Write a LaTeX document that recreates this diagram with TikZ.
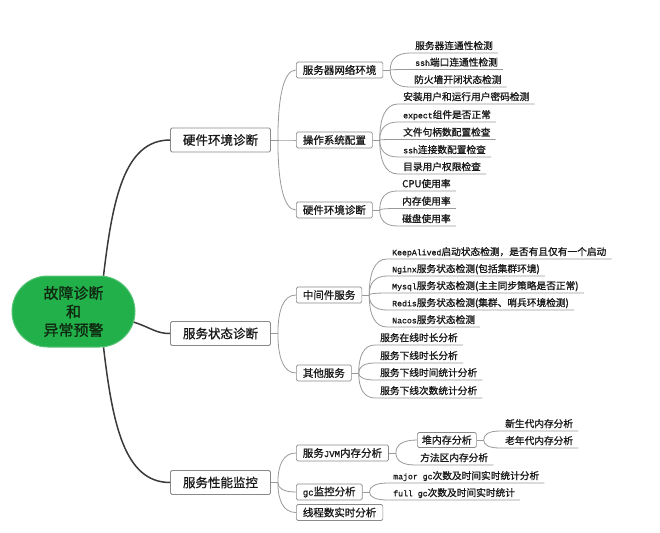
\documentclass[tikz,border=0pt]{standalone}
\usepackage{fontspec}
\setmainfont{Noto Sans CJK SC}[FakeBold=1]
\newfontfamily\monof{Liberation Mono}[FakeBold=1]
\usetikzlibrary{calc,shapes.misc}
\newcommand\latn[1]{{\monof\fontsize{8.2pt}{10pt}\selectfont #1}}
\newcommand\latnb[1]{{\monof\fontsize{9pt}{11pt}\selectfont #1}}
\definecolor{rootgreen}{HTML}{22B04B}
\definecolor{roottext}{HTML}{102810}
\definecolor{txt}{HTML}{1A1A1A}
\definecolor{boxline}{HTML}{8A8A8A}
\definecolor{linegray}{HTML}{9A9A9A}
\definecolor{trunk}{HTML}{3A3A3A}
\begin{document}
\begin{tikzpicture}[x=1pt,y=-1pt,
  rootnode/.style={rounded rectangle, fill=rootgreen, draw=rootgreen!75!white, line width=1pt,
    minimum width=123pt, minimum height=71pt, align=center, inner sep=0pt,
    font=\fontsize{15pt}{18.5pt}\selectfont, text=roottext},
  lonebox/.style={draw=boxline, line width=0.8pt, rounded corners=1.5pt, fill=white,
    minimum width=100pt, minimum height=24pt, inner sep=0pt,
    font=\fontsize{12.5pt}{14pt}\selectfont, text=txt},
  ltwobox/.style={draw=boxline, line width=0.7pt, rounded corners=1.5pt, fill=white,
    minimum height=16pt, inner xsep=6.5pt, inner ysep=0pt, anchor=west,
    font=\fontsize{10.5pt}{12pt}\selectfont, text=txt},
  lthreebox/.style={ltwobox, inner xsep=4.5pt, minimum height=15pt,
    font=\fontsize{10pt}{12pt}\selectfont},
  leaf/.style={anchor=south west, inner xsep=5pt, inner ysep=2pt,
    text height=7.5pt, text depth=1.5pt,
    font=\fontsize{9.7pt}{11pt}\selectfont, text=txt},
  trunkline/.style={draw=trunk, line width=1.5pt},
  branch/.style={draw=linegray, line width=0.8pt},
  elbow/.style={to path={.. controls ($(\tikztostart)!0.6!(\tikztostart |- \tikztotarget)$)
    and ($(\tikztostart |- \tikztotarget)!0.3!(\tikztotarget)$) .. (\tikztotarget)}},
]
\fill[white] (0,0) rectangle (660,532);
\useasboundingbox (0,0) rectangle (660,532);

% root
\node[rootnode] (root) at (73.5,311.5) {故障诊断\\和\\异常预警};

% level 1
\node[lonebox] (h1) at (220.5,140) {硬件环境诊断};
\node[lonebox] (s1) at (220.5,333.5) {服务状态诊断};
\node[lonebox] (p1) at (220.5,482.5) {服务性能监控};

\draw[trunkline] (root.50) .. controls +(9,-76) and +(-46,0) .. (h1.west);
\draw[trunkline] (root.-10) .. controls +(18,6) and +(-14,0) .. (s1.west);
\draw[trunkline] (root.-50) .. controls +(9,76) and +(-46,0) .. (p1.west);

% level 2
\node[ltwobox] (a1) at (296,70) {服务器网络环境};
\node[ltwobox] (a2) at (296,140) {操作系统配置};
\node[ltwobox] (a3) at (296,210) {硬件环境诊断};
\node[ltwobox] (b1) at (296,295) {中间件服务};
\node[ltwobox] (b2) at (296,373) {其他服务};
\node[ltwobox] (c1) at (296,453) {服务\latnb{JVM}内存分析};
\node[ltwobox] (c2) at (296,492) {\latnb{gc}监控分析};
\node[ltwobox] (c3) at (296,512.5) {线程数实时分析};

\coordinate (fh) at ($(h1.east)+(7,0)$);
\coordinate (fs) at ($(s1.east)+(7,0)$);
\coordinate (fp) at ($(p1.east)+(7,0)$);
\draw[branch] (h1.east) -- (fh);
\draw[branch] (s1.east) -- (fs);
\draw[branch] (p1.east) -- (fp);
\draw[branch] (fh) to[elbow] (a1.west);
\draw[branch] (fh) to[elbow] (a2.west);
\draw[branch] (fh) to[elbow] (a3.west);
\draw[branch] (fs) to[elbow] (b1.west);
\draw[branch] (fs) to[elbow] (b2.west);
\draw[branch] (fp) to[elbow] (c1.west);
\draw[branch] (fp) to[elbow] (c2.west);
\draw[branch] (fp) to[elbow] (c3.west);

% leaves of a1
\node[leaf] (a1x) at (410,53) {服务器连通性检测};
\node[leaf] (a1y) at (410,69.5) {\latn{ssh}端口连通性检测};
\node[leaf] (a1z) at (409,87) {防火墙开闭状态检测};
\coordinate (fa1) at ($(a1.east)+(7,0)$);
\draw[branch] (a1.east) -- (fa1);
\foreach \n in {a1x,a1y,a1z}
  \draw[branch] (fa1) to[elbow] (\n.south west) -- (\n.south east);

% leaves of a2
\node[leaf] (a2a) at (398,104) {安装用户和运行用户密码检测};
\node[leaf] (a2b) at (398,122) {\latn{expect}组件是否正常};
\node[leaf] (a2c) at (398,139.5) {文件句柄数配置检查};
\node[leaf] (a2d) at (398,157) {\latn{ssh}连接数配置检查};
\node[leaf] (a2e) at (398,174) {目录用户权限检查};
\coordinate (fa2) at ($(a2.east)+(7,0)$);
\draw[branch] (a2.east) -- (fa2);
\foreach \n in {a2a,a2b,a2c,a2d,a2e}
  \draw[branch] (fa2) to[elbow] (\n.south west) -- (\n.south east);

% leaves of a3
\node[leaf] (a3a) at (397,191) {CPU使用率};
\node[leaf] (a3b) at (397,208.5) {内存使用率};
\node[leaf] (a3c) at (397,226) {磁盘使用率};
\coordinate (fa3) at ($(a3.east)+(7,0)$);
\draw[branch] (a3.east) -- (fa3);
\foreach \n in {a3a,a3b,a3c}
  \draw[branch] (fa3) to[elbow] (\n.south west) -- (\n.south east);

% leaves of b1
\node[leaf] (b1a) at (387,259) {\latn{KeepAlived}启动状态检测，是否有且仅有一个启动};
\node[leaf] (b1b) at (387,276) {\latn{Nginx}服务状态检测(包括集群环境)};
\node[leaf] (b1c) at (387,293) {\latn{Mysql}服务状态检测(主主同步策略是否正常)};
\node[leaf] (b1d) at (387,310) {\latn{Redis}服务状态检测(集群、哨兵环境检测)};
\node[leaf] (b1e) at (387,327) {\latn{Nacos}服务状态检测};
\coordinate (fb1) at ($(b1.east)+(7,0)$);
\draw[branch] (b1.east) -- (fb1);
\foreach \n in {b1a,b1b,b1c,b1d,b1e}
  \draw[branch] (fb1) to[elbow] (\n.south west) -- (\n.south east);

% leaves of b2
\node[leaf] (b2a) at (375,345) {服务在线时长分析};
\node[leaf] (b2b) at (375,363) {服务下线时长分析};
\node[leaf] (b2c) at (375,380) {服务下线时间统计分析};
\node[leaf] (b2d) at (375,398) {服务下线次数统计分析};
\coordinate (fb2) at ($(b2.east)+(7,0)$);
\draw[branch] (b2.east) -- (fb2);
\foreach \n in {b2a,b2b,b2c,b2d}
  \draw[branch] (fb2) to[elbow] (\n.south west) -- (\n.south east);

% children of c1
\node[lthreebox] (c1a) at (417,440) {堆内存分析};
\node[leaf] (c1b) at (415,465) {方法区内存分析};
\coordinate (fc1) at ($(c1.east)+(7,0)$);
\draw[branch] (c1.east) -- (fc1);
\draw[branch] (fc1) to[elbow] (c1a.west);
\draw[branch] (fc1) to[elbow] (c1b.south west) -- (c1b.south east);

% leaves of heap
\node[leaf] (hpa) at (500,431) {新生代内存分析};
\node[leaf] (hpb) at (500,448) {老年代内存分析};
\coordinate (fhp) at ($(c1a.east)+(7,0)$);
\draw[branch] (c1a.east) -- (fhp);
\foreach \n in {hpa,hpb}
  \draw[branch] (fhp) to[elbow] (\n.south west) -- (\n.south east);

% leaves of c2
\node[leaf] (c2a) at (388,483) {\latn{major gc}次数及时间实时统计分析};
\node[leaf] (c2b) at (388,500) {\latn{full gc}次数及时间实时统计};
\coordinate (fc2) at ($(c2.east)+(7,0)$);
\draw[branch] (c2.east) -- (fc2);
\foreach \n in {c2a,c2b}
  \draw[branch] (fc2) to[elbow] (\n.south west) -- (\n.south east);
\end{tikzpicture}
\end{document}
